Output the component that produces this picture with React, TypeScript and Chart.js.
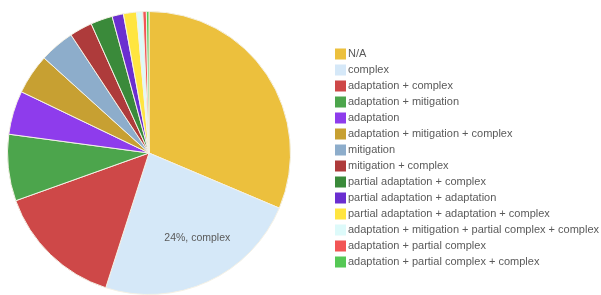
import React, { useEffect, useRef } from "react";
import { Chart, registerables } from "chart.js";

Chart.register(...registerables);

const labels = [
  "N/A",
  "complex",
  "adaptation + complex",
  "adaptation + mitigation",
  "adaptation",
  "adaptation + mitigation + complex",
  "mitigation",
  "mitigation + complex",
  "partial adaptation + complex",
  "partial adaptation + adaptation",
  "partial adaptation + adaptation + complex",
  "adaptation + mitigation + partial complex + complex",
  "adaptation + partial complex",
  "adaptation + partial complex + complex",
];

const values = [31.4, 23.6, 14.6, 7.6, 5.0, 4.6, 4.0, 2.6, 2.5, 1.3, 1.5, 0.7, 0.4, 0.3];

const colors = [
  "#ECC03D",
  "#D5E8F8",
  "#CE4848",
  "#4CA54C",
  "#8E3CEC",
  "#C7A032",
  "#8DADCB",
  "#AE3B3B",
  "#3A8A3A",
  "#6A2ED0",
  "#FFE540",
  "#DDFAFA",
  "#F25555",
  "#55C855",
];

const sliceLabelIndex = 1;

const overlayPlugin = {
  id: "overlay",
  afterDraw(chart: any) {
    const ctx = chart.ctx;
    ctx.save();
    const meta = chart.getDatasetMeta(0);
    const arc = meta.data[sliceLabelIndex];
    if (arc) {
      const p = arc.getProps(["x", "y", "startAngle", "endAngle", "outerRadius"], true);
      const mid = (p.startAngle + p.endAngle) / 2 - (5 * Math.PI) / 180;
      const r = p.outerRadius * 0.69;
      const total = values.reduce((a, b) => a + b, 0);
      const pct = Math.round((values[sliceLabelIndex] / total) * 100);
      ctx.font = "10.5px Arial, 'Liberation Sans', sans-serif";
      ctx.fillStyle = "#5a5a5a";
      ctx.textAlign = "center";
      ctx.textBaseline = "middle";
      ctx.fillText(`${pct}%, ${labels[sliceLabelIndex]}`, p.x + Math.cos(mid) * r, p.y + Math.sin(mid) * r);
    }
    const x0 = 335;
    const y0 = 54;
    const step = 16;
    ctx.font = "11px Arial, 'Liberation Sans', sans-serif";
    ctx.textAlign = "left";
    ctx.textBaseline = "middle";
    labels.forEach((lab, i) => {
      const y = y0 + i * step;
      ctx.fillStyle = colors[i];
      ctx.fillRect(x0, y - 5.5, 11, 11);
      ctx.fillStyle = "#5a5a5a";
      ctx.fillText(lab, x0 + 13, y);
    });
    ctx.restore();
  },
};

export default function App() {
  const ref = useRef<HTMLCanvasElement>(null);
  useEffect(() => {
    document.body.style.margin = "0";
    const chart = new Chart(ref.current!, {
      type: "pie",
      data: {
        labels,
        datasets: [
          {
            data: values,
            backgroundColor: colors,
            borderColor: "#F4F1E6",
            borderWidth: 1,
          },
        ],
      },
      options: {
        responsive: false,
        animation: false,
        layout: { padding: { left: 7, top: 11, right: 310, bottom: 0 } },
        plugins: {
          legend: { display: false },
          tooltip: { enabled: false },
        },
      },
      plugins: [overlayPlugin],
    });
    return () => chart.destroy();
  }, []);
  return (
    <div style={{ width: 601, height: 295, background: "#fff" }}>
      <canvas ref={ref} width={601} height={295} />
    </div>
  );
}
